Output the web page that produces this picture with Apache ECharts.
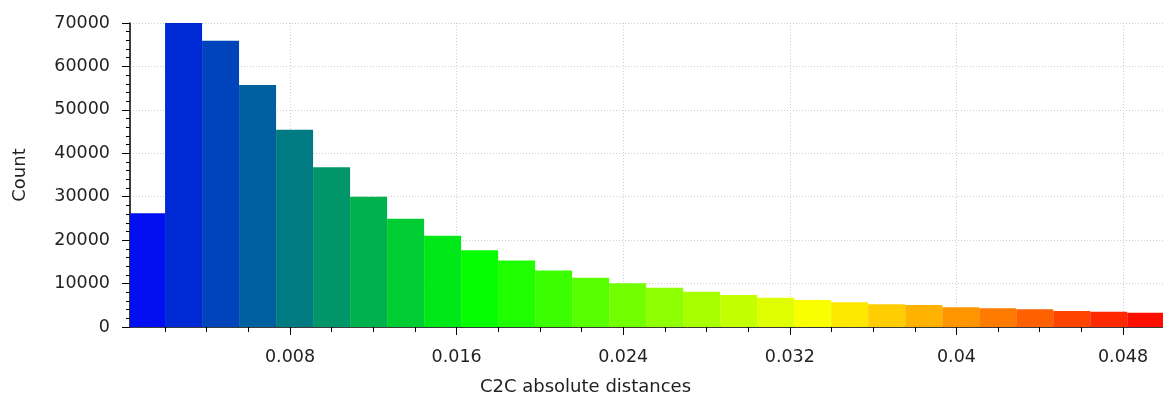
<!DOCTYPE html>
<html>
<head>
<meta charset="utf-8">
<script src="https://cdn.jsdelivr.net/npm/echarts@6/dist/echarts.min.js"></script>
<style>html,body{margin:0;padding:0;background:#fff}#c{width:1163px;height:401px}</style>
</head>
<body>
<div id="c"></div>
<script>
// Histogram bins (C2C absolute distances)
const binStart = 0.000223;
const binWidth = 0.001777;
const counts = [26200, 70000, 65900, 55700, 45400, 36800, 30000, 24900, 21000, 17700,
                15300, 13000, 11350, 10050, 9050, 8130, 7370, 6750, 6200, 5680,
                5250, 5050, 4550, 4300, 4070, 3700, 3500, 3300];
const xMajorTicks = [0.008, 0.016, 0.024, 0.032, 0.04, 0.048];
const xMinorTicks = [0.002, 0.004, 0.006, 0.010, 0.012, 0.014, 0.018, 0.020, 0.022,
                     0.026, 0.028, 0.030, 0.034, 0.036, 0.038, 0.042, 0.044, 0.046];
const xMin = 0.000317, xMax = 0.04992;
const yMax = 70000;
const palette = ['#0000ff', '#00ff00', '#ffff00', '#ff0000'];

const data = counts.map((c, i) => [binStart + i * binWidth, binStart + (i + 1) * binWidth, c]);

const chart = echarts.init(document.getElementById('c'), null, {renderer: 'canvas'});
const labelColor = '#222';
const font = 'DejaVu Sans';
chart.setOption({
  animation: false,
  backgroundColor: '#fff',
  grid: {left: 130, right: 0, top: 23, bottom: 74, outerBoundsMode: 'none'},
  xAxis: [{
    type: 'value', min: xMin, max: xMax,
    name: 'C2C absolute distances', nameLocation: 'middle', nameGap: 51,
    nameTextStyle: {color: labelColor, fontFamily: font, fontSize: 18, padding: [0, 122, 0, 0]},
    axisLine: {show: true, onZero: false, lineStyle: {color: '#000', width: 1.5}},
    axisTick: {show: true, length: 8, customValues: xMajorTicks, lineStyle: {color: '#000'}},
    axisLabel: {customValues: xMajorTicks, margin: 21, color: labelColor, fontFamily: font, fontSize: 17.5,
                formatter: v => String(+v.toFixed(3))},
    splitLine: {show: true, lineStyle: {color: '#cfcfcf', type: [1, 2], width: 1}}
  }, {
    type: 'value', min: xMin, max: xMax, position: 'bottom', gridIndex: 0,
    axisLine: {show: false},
    axisTick: {show: true, length: 5, customValues: xMinorTicks, lineStyle: {color: '#000'}},
    axisLabel: {show: false},
    splitLine: {show: false}
  }],
  yAxis: {
    type: 'value', min: 0, max: yMax, interval: 10000,
    name: 'Count', nameLocation: 'middle', nameGap: 101, nameRotate: 90,
    nameTextStyle: {color: labelColor, fontFamily: font, fontSize: 18},
    axisLine: {show: true, lineStyle: {color: '#000', width: 1.5}},
    axisTick: {show: true, length: 8, lineStyle: {color: '#000'}},
    minorTick: {show: true, splitNumber: 5, length: 4, lineStyle: {color: '#000'}},
    axisLabel: {margin: 20, color: labelColor, fontFamily: font, fontSize: 17.5, formatter: v => String(v)},
    splitLine: {show: true, lineStyle: {color: '#cfcfcf', type: [1, 2], width: 1}}
  },
  series: [{
    type: 'custom',
    xAxisIndex: 0,
    encode: {x: [0, 1], y: 2},
    data: data,
    z: 1,
    renderItem: function (params, api) {
      const i = params.dataIndex;
      const p0 = api.coord([api.value(0), 0]);
      const p1 = api.coord([api.value(1), api.value(2)]);
      const cs = params.coordSys;
      const rect = echarts.graphic.clipRectByRect(
        {x: p0[0], y: p1[1], width: p1[0] - p0[0], height: p0[1] - p1[1]},
        {x: cs.x, y: cs.y, width: cs.width, height: cs.height});
      if (!rect) return null;
      const t = (i + 0.5) / counts.length;
      return {type: 'rect', shape: rect, style: {fill: echarts.color.lerp(t, palette)}};
    }
  }]
});
</script>
</body>
</html>
